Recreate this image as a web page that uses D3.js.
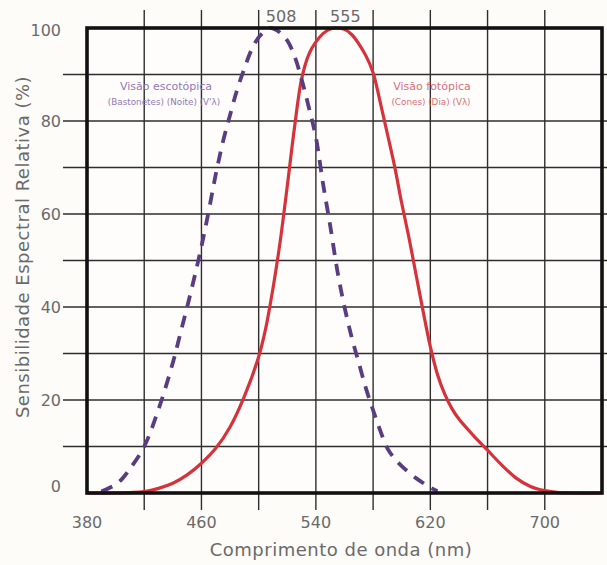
<!DOCTYPE html>
<html>
<head>
<meta charset="utf-8">
<script src="https://cdn.jsdelivr.net/npm/d3@7/dist/d3.min.js"></script>
<style>
  html, body { margin: 0; padding: 0; background: #fdfcf9; }
  svg { display: block; }
  text { font-family: "DejaVu Sans", sans-serif; }
</style>
</head>
<body>
<svg id="chart" width="607" height="565"></svg>
<script>
// Photopic (cones, day) relative sensitivity, % by wavelength (nm)
const photopicNm = [380, 400, 410, 420, 430, 440, 450, 460, 470, 480, 490, 500, 505, 510, 515, 520, 525, 530, 535, 540, 545, 550, 555, 560, 565, 570, 575, 580, 585, 590, 595, 600, 605, 610, 615, 620, 625, 630, 635, 640, 650, 660, 670, 680, 690, 700, 710, 720, 740];
const photopicVal = [0, 0, 0.1, 0.3, 1, 2.1, 3.9, 6.4, 9.6, 14.2, 20.8, 29.3, 35.5, 44, 54, 66, 78.5, 89, 94.3, 97, 98.8, 99.8, 100, 99.7, 98.6, 96.6, 94, 90.4, 84, 77.2, 70.3, 62.3, 55, 47, 39, 31.5, 25.5, 21.3, 18.2, 15.9, 12.4, 9.2, 6.0, 3.2, 1.4, 0.5, 0.1, 0, 0];

// Scotopic (rods, night) relative sensitivity, % by wavelength (nm)
const scotopicNm = [390, 400, 405, 410, 420, 430, 440, 445, 450, 455, 460, 465, 470, 475, 480, 485, 490, 495, 500, 505, 508, 510, 515, 520, 525, 530, 535, 540, 545, 550, 555, 560, 565, 570, 575, 580, 585, 590, 595, 600, 610, 620, 625];
const scotopicVal = [0.3, 1.8, 3.2, 5.2, 10, 18, 28, 34, 40, 46.3, 53, 60.5, 68.5, 75.5, 81.3, 86.8, 91.3, 95.3, 98, 99.5, 100, 99.9, 99, 97.3, 94, 89, 83, 76.5, 66.5, 57.5, 47.8, 40, 33.5, 28, 22.5, 17.8, 13.4, 9.6, 7.4, 5.8, 3.2, 1.2, 0.4];

// Axis ticks and peak markers
const xTicks = [380, 460, 540, 620, 700];
const xGrid = [420, 460, 500, 540, 580, 620, 660, 700];
const yTicks = [0, 20, 40, 60, 80, 100];
const yGrid = [10, 20, 30, 40, 50, 60, 70, 80, 90];
const peakLabels = ["508", "555"];
const peakNm = [508, 555];

const svg = d3.select("#chart");

const x = d3.scaleLinear().domain([380, 740]).range([87, 602]);
const y = d3.scaleLinear().domain([0, 100]).range([493, 28]);

const gridColor = "#2e2e2e";
const labelColor = "#6a6a6a";

// plot background
svg.append("rect")
  .attr("x", x(380)).attr("y", y(100))
  .attr("width", x(740) - x(380)).attr("height", y(0) - y(100))
  .attr("fill", "#fefdfb");

// vertical grid lines, running past the frame above and below
svg.append("g").selectAll("line").data(xGrid).join("line")
  .attr("x1", d => x(d)).attr("x2", d => x(d))
  .attr("y1", 10).attr("y2", 510)
  .attr("stroke", gridColor).attr("stroke-width", 1.4);

// horizontal grid lines, running past the frame left and right
svg.append("g").selectAll("line").data(yGrid).join("line")
  .attr("x1", 63).attr("x2", 607)
  .attr("y1", d => y(d)).attr("y2", d => y(d))
  .attr("stroke", gridColor).attr("stroke-width", 1.4);

// curves
const line = d3.line()
  .x(d => x(d[0])).y(d => y(Math.min(100, d[1])))
  .curve(d3.curveCatmullRom.alpha(0.5));

svg.append("path")
  .datum(photopicNm.map((n, i) => [n, photopicVal[i]]))
  .attr("d", line)
  .attr("fill", "none")
  .attr("stroke", "#d4333b")
  .attr("stroke-width", 3.2);

svg.append("path")
  .datum(scotopicNm.map((n, i) => [n, scotopicVal[i]]))
  .attr("d", line)
  .attr("fill", "none")
  .attr("stroke", "#5a3d80")
  .attr("stroke-width", 3.8)
  .attr("stroke-dasharray", "12,9")
  .attr("stroke-linecap", "butt");

// frame
svg.append("rect")
  .attr("x", x(380)).attr("y", y(100))
  .attr("width", x(740) - x(380)).attr("height", y(0) - y(100))
  .attr("fill", "none")
  .attr("stroke", "#111")
  .attr("stroke-width", 3.6);

// x tick labels
svg.append("g").selectAll("text").data(xTicks).join("text")
  .attr("x", d => x(d)).attr("y", 528)
  .attr("text-anchor", "middle")
  .attr("font-size", 16)
  .attr("fill", labelColor)
  .text(d => d);

// y tick labels
svg.append("g").selectAll("text").data(yTicks).join("text")
  .attr("x", 61)
  .attr("y", d => d === 100 ? y(d) + 8 : d === 0 ? y(d) - 1 : y(d) + 6)
  .attr("text-anchor", "end")
  .attr("font-size", 16)
  .attr("fill", labelColor)
  .text(d => d);

// peak wavelength labels above the frame
svg.append("g").selectAll("text").data(peakLabels).join("text")
  .attr("x", (d, i) => x(peakNm[i]) + (i === 0 ? 11 : 8))
  .attr("y", 22)
  .attr("text-anchor", "middle")
  .attr("font-size", 16)
  .attr("fill", labelColor)
  .text(d => d);

// axis titles
svg.append("text")
  .attr("x", 341).attr("y", 556)
  .attr("text-anchor", "middle")
  .attr("font-size", 18)
  .attr("letter-spacing", 0.5)
  .attr("fill", labelColor)
  .text("Comprimento de onda (nm)");

svg.append("text")
  .attr("transform", "translate(29,247) rotate(-90)")
  .attr("text-anchor", "middle")
  .attr("font-size", 18)
  .attr("letter-spacing", 0.5)
  .attr("fill", labelColor)
  .text("Sensibilidade Espectral Relativa (%)");

// curve captions
const scot = svg.append("g").attr("fill", "#9379b0").attr("text-anchor", "middle");
scot.append("text").attr("x", 166).attr("y", 90).attr("font-size", 11).text("Visão escotópica");
scot.append("text").attr("x", 164).attr("y", 105).attr("font-size", 8.8).text("(Bastonetes) (Noite) (V'λ)");

const phot = svg.append("g").attr("fill", "#d8707a").attr("text-anchor", "middle");
phot.append("text").attr("x", 432).attr("y", 90).attr("font-size", 11).text("Visão fotópica");
phot.append("text").attr("x", 431).attr("y", 105).attr("font-size", 8.8).text("(Cones) (Dia) (Vλ)");
</script>
</body>
</html>
